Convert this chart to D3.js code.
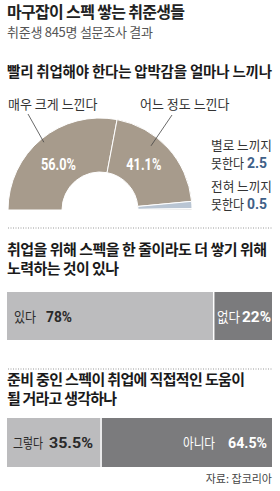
<!DOCTYPE html>
<html>
<head>
<meta charset="utf-8">
<script src="https://cdn.jsdelivr.net/npm/d3@7"></script>
<style>
  body { margin: 0; background: #fff; }
  svg { display: block; }
</style>
</head>
<body>
<svg id="chart" width="280" height="491"></svg>
<script>
// survey data
var pressureLabels = ['매우 크게 느낀다', '어느 정도 느낀다', '별로 느끼지 못한다', '전혀 느끼지 못한다'];
var pressureValues = [56.0, 41.1, 2.5, 0.5];
var effortLabels = ['있다', '없다'];
var effortValues = [78, 22];
var helpLabels = ['그렇다', '아니다'];
var helpValues = [35.5, 64.5];

var svg = d3.select('#chart');
var kr = "'Noto Sans CJK KR', sans-serif";
var num = "Roboto, 'Liberation Sans', sans-serif";

function txt(x, y, s, size, weight, fill, fam) {
    return svg.append('text')
        .attr('x', x).attr('y', y)
        .style('font-family', fam || kr)
        .style('font-size', size + 'px')
        .style('font-weight', weight || 400)
        .attr('fill', fill || '#222')
        .text(s);
}

// squeeze text to the width it has in the print (condensed face)
function squeeze(t, w) {
    return t.attr('textLength', w).attr('lengthAdjust', 'spacingAndGlyphs');
}

function numText(x, y, s, size, w, fill, anchor) {
    return squeeze(txt(x, y, s, size, 700, fill, num), w)
        .attr('text-anchor', anchor || 'start');
}

// label + number inside a bar; lw/nw = label and number widths
function pair(x, y, label, s, lw, nw, gap, fill, right) {
    if (!right) {
        squeeze(txt(x, y, label, 14, 400, fill), lw);
        numText(x + lw + gap, y, s, 15, nw, fill);
    } else {
        numText(x, y, s, 15, nw, fill, 'end');
        squeeze(txt(x - nw - gap, y, label, 14, 400, fill), lw).attr('text-anchor', 'end');
    }
}

function dots(y) {
    svg.append('line')
        .attr('x1', 8).attr('x2', 272).attr('y1', y).attr('y2', y)
        .attr('stroke', '#999').attr('stroke-width', 1)
        .attr('stroke-dasharray', '1,1.5');
}

/*
 * Titles
 */
txt(7, 18, '마구잡이 스펙 쌓는 취준생들', 16, 700, '#222').attr('textLength', 178);
txt(7, 37, '취준생 845명 설문조사 결과', 13, 400, '#555').attr('textLength', 146);
txt(7, 77, '빨리 취업해야 한다는 압박감을 얼마나 느끼나', 14.5, 700, '#1a1a1a').attr('textLength', 265);

/*
 * Half donut
 */
var cx = 100, cy = 210;
var g = svg.append('g').attr('transform', 'translate(' + cx + ',' + cy + ')');
var pie = d3.pie().sort(null).startAngle(-Math.PI / 2).endAngle(Math.PI / 2);
var arc = d3.arc().innerRadius(38).outerRadius(92);
var colors = ['#a79b8c', '#a79b8c', '#b9c5d3', '#d6d6d6'];
var arcs = pie(pressureValues);

g.selectAll('path').data(arcs).enter().append('path')
    .attr('d', arc)
    .attr('fill', function(d, i) { return colors[i]; })
    .attr('stroke', '#fff')
    .attr('stroke-width', 1);

var labelArc = d3.arc().innerRadius(62).outerRadius(62);
arcs.slice(0, 2).forEach(function(d) {
    var c = labelArc.centroid(d);
    numText(cx + c[0] - 2, cy - 40, d.value.toFixed(1) + '%', 17, 35, '#fff', 'middle');
});

// leader lines from slice to its label
function pt(a, r) { return [cx + r * Math.sin(a), cy - r * Math.cos(a)]; }
var mid0 = (arcs[0].startAngle + arcs[0].endAngle) / 2;
var mid1 = (arcs[1].startAngle + arcs[1].endAngle) / 2;
var p0 = pt(mid0, 88), p1 = pt(mid1 - 0.16, 82);
svg.append('line').attr('x1', 28).attr('y1', 114).attr('x2', p0[0]).attr('y2', p0[1])
    .attr('stroke', '#444').attr('stroke-width', 0.8);
svg.append('line').attr('x1', 172).attr('y1', 115).attr('x2', p1[0]).attr('y2', p1[1])
    .attr('stroke', '#444').attr('stroke-width', 0.8);

txt(8, 109, pressureLabels[0], 13, 400, '#333');
txt(140, 109, pressureLabels[1], 13, 400, '#333');

// small slices on the right
function sideLabel(y, label, v) {
    var parts = label.split(' ');
    squeeze(txt(211, y, parts[0] + ' ' + parts[1], 13, 400, '#333'), 61);
    squeeze(txt(211, y + 18, parts[2], 13, 400, '#333'), 33);
    numText(247, y + 18, v.toFixed(1), 14, 20, '#3f6088');
}
sideLabel(150, pressureLabels[2], pressureValues[2]);
sideLabel(191, pressureLabels[3], pressureValues[3]);

dots(228);

/*
 * Stacked bars
 */
var x = d3.scaleLinear().domain([0, 100]).range([7, 272]);
var barColors = ['#bcbcbe', '#7b7b7d'];

function bar(y0, h, values) {
    var cum = 0;
    values.forEach(function(v, i) {
        svg.append('rect')
            .attr('x', x(cum)).attr('y', y0)
            .attr('width', x(cum + v) - x(cum)).attr('height', h)
            .attr('fill', barColors[i]);
        cum += v;
    });
    svg.append('line')
        .attr('x1', x(values[0])).attr('x2', x(values[0]))
        .attr('y1', y0).attr('y2', y0 + h)
        .attr('stroke', '#fff').attr('stroke-width', 1.5);
}

txt(7, 255, '취업을 위해 스펙을 한 줄이라도 더 쌓기 위해', 15, 700, '#1a1a1a').attr('textLength', 260);
txt(7, 274, '노력하는 것이 있나', 15, 700, '#1a1a1a').attr('textLength', 112);

bar(292, 48, effortValues);
pair(14, 322, effortLabels[0], effortValues[0] + '%', 22, 26, 10, '#2a2a2a');
pair(271, 322, effortLabels[1], effortValues[1] + '%', 23, 29, 2, '#fff', true);

dots(369);

txt(7, 385, '준비 중인 스펙이 취업에 직접적인 도움이', 15, 700, '#1a1a1a').attr('textLength', 238);
txt(7, 404, '될 거라고 생각하나', 15, 700, '#1a1a1a').attr('textLength', 110);

bar(418, 49, helpValues);
pair(13, 448, helpLabels[0], helpValues[0] + '%', 30, 44, 6, '#2a2a2a');
pair(267, 448, helpLabels[1], helpValues[1] + '%', 32, 39, 13, '#fff', true);

txt(272, 483, '자료: 잡코리아', 11, 400, '#444').attr('text-anchor', 'end');
</script>
</body>
</html>
